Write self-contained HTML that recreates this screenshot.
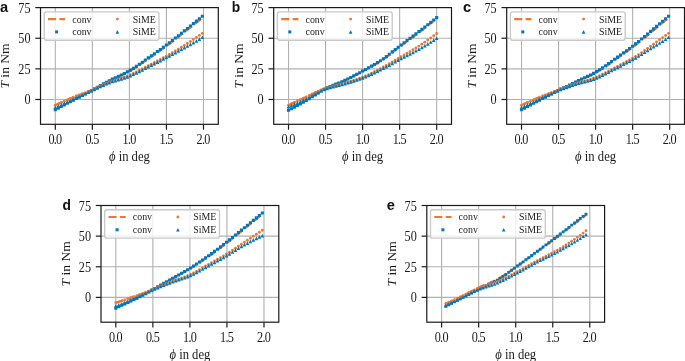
<!DOCTYPE html>
<html><head><meta charset="utf-8"><title>Figure</title>
<style>
html,body{margin:0;padding:0;background:#fff}
svg{display:block;will-change:transform}
.t{font-family:"Liberation Serif",serif;font-size:13.6px;fill:#1a1a1a}
.l{font-family:"Liberation Serif",serif;font-size:11px;fill:#1a1a1a}
.p{font-family:"Liberation Sans",sans-serif;font-weight:bold;fill:#111}
</style></head><body>
<svg width="685" height="361" viewBox="0 0 685 361">
<rect width="685" height="361" fill="#fff"/>
<g>
<line x1="55.32" y1="7.6" x2="55.32" y2="124.3" stroke="#b0b0b0" stroke-width="1.1"/>
<line x1="92.36" y1="7.6" x2="92.36" y2="124.3" stroke="#b0b0b0" stroke-width="1.1"/>
<line x1="129.4" y1="7.6" x2="129.4" y2="124.3" stroke="#b0b0b0" stroke-width="1.1"/>
<line x1="166.44" y1="7.6" x2="166.44" y2="124.3" stroke="#b0b0b0" stroke-width="1.1"/>
<line x1="203.48" y1="7.6" x2="203.48" y2="124.3" stroke="#b0b0b0" stroke-width="1.1"/>
<line x1="40.5" y1="99.49" x2="218.3" y2="99.49" stroke="#b0b0b0" stroke-width="1.1"/>
<line x1="40.5" y1="68.86" x2="218.3" y2="68.86" stroke="#b0b0b0" stroke-width="1.1"/>
<line x1="40.5" y1="38.23" x2="218.3" y2="38.23" stroke="#b0b0b0" stroke-width="1.1"/>
<polyline points="55.32,105.13 58.32,103.75 61.32,102.41 64.32,101.09 67.32,99.79 70.32,98.52 73.32,97.25 76.32,96.06 79.33,94.98 82.33,93.95 85.33,92.9 88.33,91.75 91.33,90.44 94.33,88.93 97.33,87.35 100.33,85.75 103.33,84.15 106.34,82.57 109.34,81.02 112.34,79.55 115.34,78.16 118.34,76.82 121.34,75.46 124.34,74.02 127.34,72.47 130.34,70.8 133.35,69.02 136.35,67.13 139.35,65.13 142.35,63.06 145.35,60.96 148.35,58.88 151.35,56.82 154.35,54.76 157.36,52.68 160.36,50.57 163.36,48.44 166.36,46.25 169.36,44.02 172.36,41.73 175.36,39.41 178.36,37.06 181.36,34.7 184.37,32.33 187.37,29.96 190.37,27.58 193.37,25.19 196.37,22.79 199.37,20.37 202.37,17.94" fill="none" stroke="#EE7733" stroke-width="2.2" stroke-dasharray="8.1 3.5"/>
<path d="M53.77 108.11h3.1v3.1h-3.1zM56.77 106.53h3.1v3.1h-3.1zM59.77 104.95h3.1v3.1h-3.1zM62.77 103.36h3.1v3.1h-3.1zM65.77 101.77h3.1v3.1h-3.1zM68.77 100.18h3.1v3.1h-3.1zM71.77 98.58h3.1v3.1h-3.1zM74.77 96.98h3.1v3.1h-3.1zM77.78 95.38h3.1v3.1h-3.1zM80.78 93.77h3.1v3.1h-3.1zM83.78 92.16h3.1v3.1h-3.1zM86.78 90.55h3.1v3.1h-3.1zM89.78 88.94h3.1v3.1h-3.1zM92.78 87.31h3.1v3.1h-3.1zM95.78 85.66h3.1v3.1h-3.1zM98.78 84h3.1v3.1h-3.1zM101.78 82.34h3.1v3.1h-3.1zM104.79 80.71h3.1v3.1h-3.1zM107.79 79.13h3.1v3.1h-3.1zM110.79 77.61h3.1v3.1h-3.1zM113.79 76.18h3.1v3.1h-3.1zM116.79 74.8h3.1v3.1h-3.1zM119.79 73.4h3.1v3.1h-3.1zM122.79 71.93h3.1v3.1h-3.1zM125.79 70.34h3.1v3.1h-3.1zM128.79 68.62h3.1v3.1h-3.1zM131.8 66.79h3.1v3.1h-3.1zM134.8 64.83h3.1v3.1h-3.1zM137.8 62.76h3.1v3.1h-3.1zM140.8 60.63h3.1v3.1h-3.1zM143.8 58.48h3.1v3.1h-3.1zM146.8 56.35h3.1v3.1h-3.1zM149.8 54.24h3.1v3.1h-3.1zM152.8 52.13h3.1v3.1h-3.1zM155.81 50.02h3.1v3.1h-3.1zM158.81 47.88h3.1v3.1h-3.1zM161.81 45.7h3.1v3.1h-3.1zM164.81 43.48h3.1v3.1h-3.1zM167.81 41.21h3.1v3.1h-3.1zM170.81 38.88h3.1v3.1h-3.1zM173.81 36.52h3.1v3.1h-3.1zM176.81 34.13h3.1v3.1h-3.1zM179.81 31.72h3.1v3.1h-3.1zM182.82 29.32h3.1v3.1h-3.1zM185.82 26.91h3.1v3.1h-3.1zM188.82 24.49h3.1v3.1h-3.1zM191.82 22.06h3.1v3.1h-3.1zM194.82 19.62h3.1v3.1h-3.1zM197.82 17.16h3.1v3.1h-3.1zM200.82 14.69h3.1v3.1h-3.1z" fill="#0077BB"/>
<circle cx="55.32" cy="105.13" r="1.45" fill="#EE7733"/>
<circle cx="58.32" cy="103.84" r="1.45" fill="#EE7733"/>
<circle cx="61.32" cy="102.55" r="1.45" fill="#EE7733"/>
<circle cx="64.32" cy="101.24" r="1.45" fill="#EE7733"/>
<circle cx="67.32" cy="99.93" r="1.45" fill="#EE7733"/>
<circle cx="70.32" cy="98.6" r="1.45" fill="#EE7733"/>
<circle cx="73.32" cy="97.27" r="1.45" fill="#EE7733"/>
<circle cx="76.32" cy="95.99" r="1.45" fill="#EE7733"/>
<circle cx="79.33" cy="94.85" r="1.45" fill="#EE7733"/>
<circle cx="82.33" cy="93.79" r="1.45" fill="#EE7733"/>
<circle cx="85.33" cy="92.74" r="1.45" fill="#EE7733"/>
<circle cx="88.33" cy="91.63" r="1.45" fill="#EE7733"/>
<circle cx="91.33" cy="90.4" r="1.45" fill="#EE7733"/>
<circle cx="94.33" cy="89" r="1.45" fill="#EE7733"/>
<circle cx="97.33" cy="87.54" r="1.45" fill="#EE7733"/>
<circle cx="100.33" cy="86.07" r="1.45" fill="#EE7733"/>
<circle cx="103.33" cy="84.62" r="1.45" fill="#EE7733"/>
<circle cx="106.34" cy="83.23" r="1.45" fill="#EE7733"/>
<circle cx="109.34" cy="81.96" r="1.45" fill="#EE7733"/>
<circle cx="112.34" cy="80.83" r="1.45" fill="#EE7733"/>
<circle cx="115.34" cy="79.86" r="1.45" fill="#EE7733"/>
<circle cx="118.34" cy="78.96" r="1.45" fill="#EE7733"/>
<circle cx="121.34" cy="78.07" r="1.45" fill="#EE7733"/>
<circle cx="124.34" cy="77.1" r="1.45" fill="#EE7733"/>
<circle cx="127.34" cy="75.98" r="1.45" fill="#EE7733"/>
<circle cx="130.34" cy="74.72" r="1.45" fill="#EE7733"/>
<circle cx="133.35" cy="73.38" r="1.45" fill="#EE7733"/>
<circle cx="136.35" cy="71.94" r="1.45" fill="#EE7733"/>
<circle cx="139.35" cy="70.42" r="1.45" fill="#EE7733"/>
<circle cx="142.35" cy="68.85" r="1.45" fill="#EE7733"/>
<circle cx="145.35" cy="67.27" r="1.45" fill="#EE7733"/>
<circle cx="148.35" cy="65.7" r="1.45" fill="#EE7733"/>
<circle cx="151.35" cy="64.14" r="1.45" fill="#EE7733"/>
<circle cx="154.35" cy="62.57" r="1.45" fill="#EE7733"/>
<circle cx="157.36" cy="61" r="1.45" fill="#EE7733"/>
<circle cx="160.36" cy="59.41" r="1.45" fill="#EE7733"/>
<circle cx="163.36" cy="57.8" r="1.45" fill="#EE7733"/>
<circle cx="166.36" cy="56.16" r="1.45" fill="#EE7733"/>
<circle cx="169.36" cy="54.49" r="1.45" fill="#EE7733"/>
<circle cx="172.36" cy="52.75" r="1.45" fill="#EE7733"/>
<circle cx="175.36" cy="50.98" r="1.45" fill="#EE7733"/>
<circle cx="178.36" cy="49.17" r="1.45" fill="#EE7733"/>
<circle cx="181.36" cy="47.32" r="1.45" fill="#EE7733"/>
<circle cx="184.37" cy="45.46" r="1.45" fill="#EE7733"/>
<circle cx="187.37" cy="43.54" r="1.45" fill="#EE7733"/>
<circle cx="190.37" cy="41.51" r="1.45" fill="#EE7733"/>
<circle cx="193.37" cy="39.44" r="1.45" fill="#EE7733"/>
<circle cx="196.37" cy="37.42" r="1.45" fill="#EE7733"/>
<circle cx="199.37" cy="35.4" r="1.45" fill="#EE7733"/>
<circle cx="202.37" cy="33.35" r="1.45" fill="#EE7733"/>
<path d="M55.32 105.48l1.85 3.7h-3.7zM58.32 104.19l1.85 3.7h-3.7zM61.32 102.89l1.85 3.7h-3.7zM64.32 101.57l1.85 3.7h-3.7zM67.32 100.23l1.85 3.7h-3.7zM70.32 98.88l1.85 3.7h-3.7zM73.32 97.51l1.85 3.7h-3.7zM76.32 96.12l1.85 3.7h-3.7zM79.33 94.69l1.85 3.7h-3.7zM82.33 93.24l1.85 3.7h-3.7zM85.33 91.79l1.85 3.7h-3.7zM88.33 90.35l1.85 3.7h-3.7zM91.33 88.93l1.85 3.7h-3.7zM94.33 87.53l1.85 3.7h-3.7zM97.33 86.09l1.85 3.7h-3.7zM100.33 84.66l1.85 3.7h-3.7zM103.33 83.26l1.85 3.7h-3.7zM106.34 81.92l1.85 3.7h-3.7zM109.34 80.7l1.85 3.7h-3.7zM112.34 79.61l1.85 3.7h-3.7zM115.34 78.68l1.85 3.7h-3.7zM118.34 77.83l1.85 3.7h-3.7zM121.34 76.98l1.85 3.7h-3.7zM124.34 76.05l1.85 3.7h-3.7zM127.34 74.97l1.85 3.7h-3.7zM130.34 73.74l1.85 3.7h-3.7zM133.35 72.41l1.85 3.7h-3.7zM136.35 71l1.85 3.7h-3.7zM139.35 69.5l1.85 3.7h-3.7zM142.35 67.94l1.85 3.7h-3.7zM145.35 66.38l1.85 3.7h-3.7zM148.35 64.83l1.85 3.7h-3.7zM151.35 63.3l1.85 3.7h-3.7zM154.35 61.77l1.85 3.7h-3.7zM157.36 60.23l1.85 3.7h-3.7zM160.36 58.68l1.85 3.7h-3.7zM163.36 57.11l1.85 3.7h-3.7zM166.36 55.54l1.85 3.7h-3.7zM169.36 53.94l1.85 3.7h-3.7zM172.36 52.33l1.85 3.7h-3.7zM175.36 50.7l1.85 3.7h-3.7zM178.36 49.06l1.85 3.7h-3.7zM181.36 47.42l1.85 3.7h-3.7zM184.37 45.77l1.85 3.7h-3.7zM187.37 44.14l1.85 3.7h-3.7zM190.37 42.52l1.85 3.7h-3.7zM193.37 40.87l1.85 3.7h-3.7zM196.37 39.15l1.85 3.7h-3.7zM199.37 37.31l1.85 3.7h-3.7zM202.37 35.39l1.85 3.7h-3.7z" fill="#0077BB"/>
<rect x="40.5" y="7.6" width="177.8" height="116.7" fill="none" stroke="#1a1a1a" stroke-width="1.2"/>
<line x1="55.32" y1="124.3" x2="55.32" y2="129.7" stroke="#1a1a1a" stroke-width="1.2"/>
<text transform="translate(55.32 143.9) scale(0.9 1)" text-anchor="middle" class="t">0<tspan dx="-0.8">.</tspan><tspan dx="-0.8">0</tspan></text>
<line x1="92.36" y1="124.3" x2="92.36" y2="129.7" stroke="#1a1a1a" stroke-width="1.2"/>
<text transform="translate(92.36 143.9) scale(0.9 1)" text-anchor="middle" class="t">0<tspan dx="-0.8">.</tspan><tspan dx="-0.8">5</tspan></text>
<line x1="129.4" y1="124.3" x2="129.4" y2="129.7" stroke="#1a1a1a" stroke-width="1.2"/>
<text transform="translate(129.4 143.9) scale(0.9 1)" text-anchor="middle" class="t">1<tspan dx="-0.8">.</tspan><tspan dx="-0.8">0</tspan></text>
<line x1="166.44" y1="124.3" x2="166.44" y2="129.7" stroke="#1a1a1a" stroke-width="1.2"/>
<text transform="translate(166.44 143.9) scale(0.9 1)" text-anchor="middle" class="t">1<tspan dx="-0.8">.</tspan><tspan dx="-0.8">5</tspan></text>
<line x1="203.48" y1="124.3" x2="203.48" y2="129.7" stroke="#1a1a1a" stroke-width="1.2"/>
<text transform="translate(203.48 143.9) scale(0.9 1)" text-anchor="middle" class="t">2<tspan dx="-0.8">.</tspan><tspan dx="-0.8">0</tspan></text>
<line x1="35.3" y1="99.49" x2="40.5" y2="99.49" stroke="#1a1a1a" stroke-width="1.2"/>
<text transform="translate(30.5 104.49) scale(0.9 1)" text-anchor="end" class="t">0</text>
<line x1="35.3" y1="68.86" x2="40.5" y2="68.86" stroke="#1a1a1a" stroke-width="1.2"/>
<text transform="translate(30.5 73.86) scale(0.9 1)" text-anchor="end" class="t">25</text>
<line x1="35.3" y1="38.23" x2="40.5" y2="38.23" stroke="#1a1a1a" stroke-width="1.2"/>
<text transform="translate(30.5 43.23) scale(0.9 1)" text-anchor="end" class="t">50</text>
<line x1="35.3" y1="7.6" x2="40.5" y2="7.6" stroke="#1a1a1a" stroke-width="1.2"/>
<text transform="translate(30.5 12.6) scale(0.9 1)" text-anchor="end" class="t">75</text>
<text transform="translate(129.4 161.2) scale(0.93 1)" text-anchor="middle" class="t"><tspan font-style="italic">&#981;</tspan> in deg</text>
<text transform="translate(9.4 65.95) scale(0.9 1) rotate(-90)" text-anchor="middle" class="t"><tspan font-style="italic">T</tspan> in Nm</text>
<rect x="44.2" y="11.8" width="114.8" height="28.4" rx="2.2" fill="#fff" fill-opacity="0.8" stroke="#c8caca" stroke-width="1.35"/>
<line x1="48" y1="19.1" x2="65.2" y2="19.1" stroke="#EE7733" stroke-width="2.2" stroke-dasharray="8.1 3.3"/>
<rect x="55.1" y="30.4" width="3" height="3" fill="#0077BB"/>
<text transform="translate(72.3 22.5) scale(0.9 1)" class="l">conv</text>
<text transform="translate(72.3 35) scale(0.9 1)" class="l">conv</text>
<circle cx="117.4" cy="19.1" r="1.45" fill="#EE7733"/>
<path d="M117.4 30.1L119.2 33.7H115.6Z" fill="#0077BB"/>
<text transform="translate(132.7 22.5) scale(0.9 1)" class="l">SiME</text>
<text transform="translate(132.7 35) scale(0.9 1)" class="l">SiME</text>
<text x="-0.1" y="12" class="p" font-size="14.6">a</text>
</g>
<g>
<line x1="288.52" y1="7.6" x2="288.52" y2="124.3" stroke="#b0b0b0" stroke-width="1.1"/>
<line x1="325.56" y1="7.6" x2="325.56" y2="124.3" stroke="#b0b0b0" stroke-width="1.1"/>
<line x1="362.6" y1="7.6" x2="362.6" y2="124.3" stroke="#b0b0b0" stroke-width="1.1"/>
<line x1="399.64" y1="7.6" x2="399.64" y2="124.3" stroke="#b0b0b0" stroke-width="1.1"/>
<line x1="436.68" y1="7.6" x2="436.68" y2="124.3" stroke="#b0b0b0" stroke-width="1.1"/>
<line x1="273.7" y1="99.49" x2="451.5" y2="99.49" stroke="#b0b0b0" stroke-width="1.1"/>
<line x1="273.7" y1="68.86" x2="451.5" y2="68.86" stroke="#b0b0b0" stroke-width="1.1"/>
<line x1="273.7" y1="38.23" x2="451.5" y2="38.23" stroke="#b0b0b0" stroke-width="1.1"/>
<polyline points="288.52,105.13 291.48,103.74 294.44,102.37 297.41,101.01 300.37,99.65 303.33,98.28 306.3,96.9 309.26,95.52 312.22,94.18 315.19,92.87 318.15,91.56 321.11,90.25 324.08,88.9 327.04,87.55 330,86.32 332.97,85.19 335.93,84.11 338.89,83.02 341.86,81.85 344.82,80.56 347.78,79.16 350.75,77.69 353.71,76.17 356.67,74.61 359.64,73.02 362.6,71.43 365.56,69.85 368.53,68.26 371.49,66.65 374.45,64.98 377.42,63.25 380.38,61.42 383.34,59.45 386.31,57.31 389.27,55.05 392.23,52.72 395.2,50.37 398.16,48.06 401.12,45.82 404.09,43.62 407.05,41.44 410.01,39.26 412.98,37.07 415.94,34.85 418.9,32.6 421.87,30.33 424.83,28.03 427.79,25.71 430.76,23.37 433.72,21.01 436.68,18.63" fill="none" stroke="#EE7733" stroke-width="2.2" stroke-dasharray="8.1 3.5"/>
<path d="M286.97 108.72h3.1v3.1h-3.1zM289.93 107.19h3.1v3.1h-3.1zM292.89 105.62h3.1v3.1h-3.1zM295.86 104.02h3.1v3.1h-3.1zM298.82 102.38h3.1v3.1h-3.1zM301.78 100.7h3.1v3.1h-3.1zM304.75 98.99h3.1v3.1h-3.1zM307.71 97.2h3.1v3.1h-3.1zM310.67 95.27h3.1v3.1h-3.1zM313.64 93.28h3.1v3.1h-3.1zM316.6 91.3h3.1v3.1h-3.1zM319.56 89.41h3.1v3.1h-3.1zM322.53 87.69h3.1v3.1h-3.1zM325.49 86.19h3.1v3.1h-3.1zM328.45 84.88h3.1v3.1h-3.1zM331.42 83.68h3.1v3.1h-3.1zM334.38 82.54h3.1v3.1h-3.1zM337.34 81.39h3.1v3.1h-3.1zM340.31 80.18h3.1v3.1h-3.1zM343.27 78.85h3.1v3.1h-3.1zM346.23 77.41h3.1v3.1h-3.1zM349.2 75.91h3.1v3.1h-3.1zM352.16 74.36h3.1v3.1h-3.1zM355.12 72.77h3.1v3.1h-3.1zM358.09 71.15h3.1v3.1h-3.1zM361.05 69.52h3.1v3.1h-3.1zM364.01 67.89h3.1v3.1h-3.1zM366.98 66.25h3.1v3.1h-3.1zM369.94 64.59h3.1v3.1h-3.1zM372.9 62.88h3.1v3.1h-3.1zM375.87 61.1h3.1v3.1h-3.1zM378.83 59.22h3.1v3.1h-3.1zM381.79 57.21h3.1v3.1h-3.1zM384.76 55.03h3.1v3.1h-3.1zM387.72 52.73h3.1v3.1h-3.1zM390.68 50.37h3.1v3.1h-3.1zM393.65 47.99h3.1v3.1h-3.1zM396.61 45.66h3.1v3.1h-3.1zM399.57 43.4h3.1v3.1h-3.1zM402.54 41.19h3.1v3.1h-3.1zM405.5 38.99h3.1v3.1h-3.1zM408.46 36.8h3.1v3.1h-3.1zM411.43 34.59h3.1v3.1h-3.1zM414.39 32.37h3.1v3.1h-3.1zM417.35 30.11h3.1v3.1h-3.1zM420.32 27.82h3.1v3.1h-3.1zM423.28 25.51h3.1v3.1h-3.1zM426.24 23.19h3.1v3.1h-3.1zM429.21 20.84h3.1v3.1h-3.1zM432.17 18.48h3.1v3.1h-3.1zM435.13 16.1h3.1v3.1h-3.1z" fill="#0077BB"/>
<circle cx="288.52" cy="105.13" r="1.45" fill="#EE7733"/>
<circle cx="291.48" cy="103.77" r="1.45" fill="#EE7733"/>
<circle cx="294.44" cy="102.42" r="1.45" fill="#EE7733"/>
<circle cx="297.41" cy="101.06" r="1.45" fill="#EE7733"/>
<circle cx="300.37" cy="99.69" r="1.45" fill="#EE7733"/>
<circle cx="303.33" cy="98.31" r="1.45" fill="#EE7733"/>
<circle cx="306.3" cy="96.9" r="1.45" fill="#EE7733"/>
<circle cx="309.26" cy="95.48" r="1.45" fill="#EE7733"/>
<circle cx="312.22" cy="94.06" r="1.45" fill="#EE7733"/>
<circle cx="315.19" cy="92.67" r="1.45" fill="#EE7733"/>
<circle cx="318.15" cy="91.32" r="1.45" fill="#EE7733"/>
<circle cx="321.11" cy="90.06" r="1.45" fill="#EE7733"/>
<circle cx="324.08" cy="88.88" r="1.45" fill="#EE7733"/>
<circle cx="327.04" cy="87.84" r="1.45" fill="#EE7733"/>
<circle cx="330" cy="86.94" r="1.45" fill="#EE7733"/>
<circle cx="332.97" cy="86.14" r="1.45" fill="#EE7733"/>
<circle cx="335.93" cy="85.41" r="1.45" fill="#EE7733"/>
<circle cx="338.89" cy="84.69" r="1.45" fill="#EE7733"/>
<circle cx="341.86" cy="83.94" r="1.45" fill="#EE7733"/>
<circle cx="344.82" cy="83.1" r="1.45" fill="#EE7733"/>
<circle cx="347.78" cy="82.22" r="1.45" fill="#EE7733"/>
<circle cx="350.75" cy="81.31" r="1.45" fill="#EE7733"/>
<circle cx="353.71" cy="80.37" r="1.45" fill="#EE7733"/>
<circle cx="356.67" cy="79.37" r="1.45" fill="#EE7733"/>
<circle cx="359.64" cy="78.32" r="1.45" fill="#EE7733"/>
<circle cx="362.6" cy="77.19" r="1.45" fill="#EE7733"/>
<circle cx="365.56" cy="75.96" r="1.45" fill="#EE7733"/>
<circle cx="368.53" cy="74.62" r="1.45" fill="#EE7733"/>
<circle cx="371.49" cy="73.2" r="1.45" fill="#EE7733"/>
<circle cx="374.45" cy="71.71" r="1.45" fill="#EE7733"/>
<circle cx="377.42" cy="70.17" r="1.45" fill="#EE7733"/>
<circle cx="380.38" cy="68.62" r="1.45" fill="#EE7733"/>
<circle cx="383.34" cy="67.04" r="1.45" fill="#EE7733"/>
<circle cx="386.31" cy="65.38" r="1.45" fill="#EE7733"/>
<circle cx="389.27" cy="63.68" r="1.45" fill="#EE7733"/>
<circle cx="392.23" cy="61.93" r="1.45" fill="#EE7733"/>
<circle cx="395.2" cy="60.18" r="1.45" fill="#EE7733"/>
<circle cx="398.16" cy="58.45" r="1.45" fill="#EE7733"/>
<circle cx="401.12" cy="56.74" r="1.45" fill="#EE7733"/>
<circle cx="404.09" cy="55.03" r="1.45" fill="#EE7733"/>
<circle cx="407.05" cy="53.32" r="1.45" fill="#EE7733"/>
<circle cx="410.01" cy="51.58" r="1.45" fill="#EE7733"/>
<circle cx="412.98" cy="49.8" r="1.45" fill="#EE7733"/>
<circle cx="415.94" cy="47.97" r="1.45" fill="#EE7733"/>
<circle cx="418.9" cy="46.08" r="1.45" fill="#EE7733"/>
<circle cx="421.87" cy="44.13" r="1.45" fill="#EE7733"/>
<circle cx="424.83" cy="42.13" r="1.45" fill="#EE7733"/>
<circle cx="427.79" cy="40.06" r="1.45" fill="#EE7733"/>
<circle cx="430.76" cy="37.95" r="1.45" fill="#EE7733"/>
<circle cx="433.72" cy="35.79" r="1.45" fill="#EE7733"/>
<circle cx="436.68" cy="33.57" r="1.45" fill="#EE7733"/>
<path d="M288.52 104.87l1.85 3.7h-3.7zM291.48 103.62l1.85 3.7h-3.7zM294.44 102.33l1.85 3.7h-3.7zM297.41 101.02l1.85 3.7h-3.7zM300.37 99.67l1.85 3.7h-3.7zM303.33 98.3l1.85 3.7h-3.7zM306.3 96.89l1.85 3.7h-3.7zM309.26 95.41l1.85 3.7h-3.7zM312.22 93.79l1.85 3.7h-3.7zM315.19 92.1l1.85 3.7h-3.7zM318.15 90.44l1.85 3.7h-3.7zM321.11 88.89l1.85 3.7h-3.7zM324.08 87.55l1.85 3.7h-3.7zM327.04 86.48l1.85 3.7h-3.7zM330 85.58l1.85 3.7h-3.7zM332.97 84.78l1.85 3.7h-3.7zM335.93 84.05l1.85 3.7h-3.7zM338.89 83.33l1.85 3.7h-3.7zM341.86 82.58l1.85 3.7h-3.7zM344.82 81.74l1.85 3.7h-3.7zM347.78 80.88l1.85 3.7h-3.7zM350.75 80l1.85 3.7h-3.7zM353.71 79.1l1.85 3.7h-3.7zM356.67 78.15l1.85 3.7h-3.7zM359.64 77.15l1.85 3.7h-3.7zM362.6 76.08l1.85 3.7h-3.7zM365.56 74.9l1.85 3.7h-3.7zM368.53 73.62l1.85 3.7h-3.7zM371.49 72.25l1.85 3.7h-3.7zM374.45 70.82l1.85 3.7h-3.7zM377.42 69.35l1.85 3.7h-3.7zM380.38 67.87l1.85 3.7h-3.7zM383.34 66.37l1.85 3.7h-3.7zM386.31 64.79l1.85 3.7h-3.7zM389.27 63.18l1.85 3.7h-3.7zM392.23 61.53l1.85 3.7h-3.7zM395.2 59.88l1.85 3.7h-3.7zM398.16 58.25l1.85 3.7h-3.7zM401.12 56.67l1.85 3.7h-3.7zM404.09 55.11l1.85 3.7h-3.7zM407.05 53.58l1.85 3.7h-3.7zM410.01 52.05l1.85 3.7h-3.7zM412.98 50.49l1.85 3.7h-3.7zM415.94 48.89l1.85 3.7h-3.7zM418.9 47.23l1.85 3.7h-3.7zM421.87 45.52l1.85 3.7h-3.7zM424.83 43.77l1.85 3.7h-3.7zM427.79 41.98l1.85 3.7h-3.7zM430.76 40.15l1.85 3.7h-3.7zM433.72 38.28l1.85 3.7h-3.7zM436.68 36.38l1.85 3.7h-3.7z" fill="#0077BB"/>
<rect x="273.7" y="7.6" width="177.8" height="116.7" fill="none" stroke="#1a1a1a" stroke-width="1.2"/>
<line x1="288.52" y1="124.3" x2="288.52" y2="129.7" stroke="#1a1a1a" stroke-width="1.2"/>
<text transform="translate(288.52 143.9) scale(0.9 1)" text-anchor="middle" class="t">0<tspan dx="-0.8">.</tspan><tspan dx="-0.8">0</tspan></text>
<line x1="325.56" y1="124.3" x2="325.56" y2="129.7" stroke="#1a1a1a" stroke-width="1.2"/>
<text transform="translate(325.56 143.9) scale(0.9 1)" text-anchor="middle" class="t">0<tspan dx="-0.8">.</tspan><tspan dx="-0.8">5</tspan></text>
<line x1="362.6" y1="124.3" x2="362.6" y2="129.7" stroke="#1a1a1a" stroke-width="1.2"/>
<text transform="translate(362.6 143.9) scale(0.9 1)" text-anchor="middle" class="t">1<tspan dx="-0.8">.</tspan><tspan dx="-0.8">0</tspan></text>
<line x1="399.64" y1="124.3" x2="399.64" y2="129.7" stroke="#1a1a1a" stroke-width="1.2"/>
<text transform="translate(399.64 143.9) scale(0.9 1)" text-anchor="middle" class="t">1<tspan dx="-0.8">.</tspan><tspan dx="-0.8">5</tspan></text>
<line x1="436.68" y1="124.3" x2="436.68" y2="129.7" stroke="#1a1a1a" stroke-width="1.2"/>
<text transform="translate(436.68 143.9) scale(0.9 1)" text-anchor="middle" class="t">2<tspan dx="-0.8">.</tspan><tspan dx="-0.8">0</tspan></text>
<line x1="268.5" y1="99.49" x2="273.7" y2="99.49" stroke="#1a1a1a" stroke-width="1.2"/>
<text transform="translate(263.7 104.49) scale(0.9 1)" text-anchor="end" class="t">0</text>
<line x1="268.5" y1="68.86" x2="273.7" y2="68.86" stroke="#1a1a1a" stroke-width="1.2"/>
<text transform="translate(263.7 73.86) scale(0.9 1)" text-anchor="end" class="t">25</text>
<line x1="268.5" y1="38.23" x2="273.7" y2="38.23" stroke="#1a1a1a" stroke-width="1.2"/>
<text transform="translate(263.7 43.23) scale(0.9 1)" text-anchor="end" class="t">50</text>
<line x1="268.5" y1="7.6" x2="273.7" y2="7.6" stroke="#1a1a1a" stroke-width="1.2"/>
<text transform="translate(263.7 12.6) scale(0.9 1)" text-anchor="end" class="t">75</text>
<text transform="translate(362.6 161.2) scale(0.93 1)" text-anchor="middle" class="t"><tspan font-style="italic">&#981;</tspan> in deg</text>
<text transform="translate(242.6 65.95) scale(0.9 1) rotate(-90)" text-anchor="middle" class="t"><tspan font-style="italic">T</tspan> in Nm</text>
<rect x="277.4" y="11.8" width="114.8" height="28.4" rx="2.2" fill="#fff" fill-opacity="0.8" stroke="#c8caca" stroke-width="1.35"/>
<line x1="281.2" y1="19.1" x2="298.4" y2="19.1" stroke="#EE7733" stroke-width="2.2" stroke-dasharray="8.1 3.3"/>
<rect x="288.3" y="30.4" width="3" height="3" fill="#0077BB"/>
<text transform="translate(305.5 22.5) scale(0.9 1)" class="l">conv</text>
<text transform="translate(305.5 35) scale(0.9 1)" class="l">conv</text>
<circle cx="350.6" cy="19.1" r="1.45" fill="#EE7733"/>
<path d="M350.6 30.1L352.4 33.7H348.8Z" fill="#0077BB"/>
<text transform="translate(365.9 22.5) scale(0.9 1)" class="l">SiME</text>
<text transform="translate(365.9 35) scale(0.9 1)" class="l">SiME</text>
<text x="231.8" y="12" class="p" font-size="13.8">b</text>
</g>
<g>
<line x1="521.52" y1="7.6" x2="521.52" y2="124.3" stroke="#b0b0b0" stroke-width="1.1"/>
<line x1="558.56" y1="7.6" x2="558.56" y2="124.3" stroke="#b0b0b0" stroke-width="1.1"/>
<line x1="595.6" y1="7.6" x2="595.6" y2="124.3" stroke="#b0b0b0" stroke-width="1.1"/>
<line x1="632.64" y1="7.6" x2="632.64" y2="124.3" stroke="#b0b0b0" stroke-width="1.1"/>
<line x1="669.68" y1="7.6" x2="669.68" y2="124.3" stroke="#b0b0b0" stroke-width="1.1"/>
<line x1="506.7" y1="99.49" x2="684.5" y2="99.49" stroke="#b0b0b0" stroke-width="1.1"/>
<line x1="506.7" y1="68.86" x2="684.5" y2="68.86" stroke="#b0b0b0" stroke-width="1.1"/>
<line x1="506.7" y1="38.23" x2="684.5" y2="38.23" stroke="#b0b0b0" stroke-width="1.1"/>
<polyline points="521.52,105.13 524.52,103.75 527.52,102.41 530.52,101.09 533.52,99.79 536.52,98.52 539.52,97.25 542.52,96.06 545.53,94.98 548.53,93.95 551.53,92.9 554.53,91.75 557.53,90.44 560.53,89.02 563.53,87.85 566.53,86.71 569.53,85.37 572.54,83.84 575.54,82.35 578.54,80.92 581.54,79.57 584.54,78.25 587.54,76.91 590.54,75.49 593.54,73.94 596.54,72.27 599.55,70.49 602.55,68.59 605.55,66.58 608.55,64.49 611.55,62.38 614.55,60.28 617.55,58.2 620.55,56.11 623.56,54 626.56,51.87 629.56,49.7 632.56,47.48 635.56,45.19 638.56,42.8 641.56,40.36 644.56,37.87 647.56,35.36 650.57,32.86 653.57,30.37 656.57,27.9 659.57,25.43 662.57,22.94 665.57,20.45 668.57,17.96" fill="none" stroke="#EE7733" stroke-width="2.2" stroke-dasharray="8.1 3.5"/>
<path d="M519.97 108.11h3.1v3.1h-3.1zM522.97 106.53h3.1v3.1h-3.1zM525.97 104.95h3.1v3.1h-3.1zM528.97 103.36h3.1v3.1h-3.1zM531.97 101.77h3.1v3.1h-3.1zM534.97 100.18h3.1v3.1h-3.1zM537.97 98.58h3.1v3.1h-3.1zM540.97 96.98h3.1v3.1h-3.1zM543.98 95.38h3.1v3.1h-3.1zM546.98 93.77h3.1v3.1h-3.1zM549.98 92.16h3.1v3.1h-3.1zM552.98 90.55h3.1v3.1h-3.1zM555.98 88.94h3.1v3.1h-3.1zM558.98 87.41h3.1v3.1h-3.1zM561.98 86.15h3.1v3.1h-3.1zM564.98 84.95h3.1v3.1h-3.1zM567.98 83.57h3.1v3.1h-3.1zM570.99 81.99h3.1v3.1h-3.1zM573.99 80.45h3.1v3.1h-3.1zM576.99 78.98h3.1v3.1h-3.1zM579.99 77.58h3.1v3.1h-3.1zM582.99 76.23h3.1v3.1h-3.1zM585.99 74.85h3.1v3.1h-3.1zM588.99 73.39h3.1v3.1h-3.1zM591.99 71.81h3.1v3.1h-3.1zM594.99 70.09h3.1v3.1h-3.1zM598 68.26h3.1v3.1h-3.1zM601 66.29h3.1v3.1h-3.1zM604 64.21h3.1v3.1h-3.1zM607 62.07h3.1v3.1h-3.1zM610 59.9h3.1v3.1h-3.1zM613 57.75h3.1v3.1h-3.1zM616 55.62h3.1v3.1h-3.1zM619 53.49h3.1v3.1h-3.1zM622.01 51.34h3.1v3.1h-3.1zM625.01 49.17h3.1v3.1h-3.1zM628.01 46.96h3.1v3.1h-3.1zM631.01 44.71h3.1v3.1h-3.1zM634.01 42.37h3.1v3.1h-3.1zM637.01 39.95h3.1v3.1h-3.1zM640.01 37.46h3.1v3.1h-3.1zM643.01 34.93h3.1v3.1h-3.1zM646.01 32.39h3.1v3.1h-3.1zM649.02 29.84h3.1v3.1h-3.1zM652.02 27.32h3.1v3.1h-3.1zM655.02 24.81h3.1v3.1h-3.1zM658.02 22.29h3.1v3.1h-3.1zM661.02 19.77h3.1v3.1h-3.1zM664.02 17.24h3.1v3.1h-3.1zM667.02 14.71h3.1v3.1h-3.1z" fill="#0077BB"/>
<circle cx="521.52" cy="105.13" r="1.45" fill="#EE7733"/>
<circle cx="524.52" cy="103.84" r="1.45" fill="#EE7733"/>
<circle cx="527.52" cy="102.55" r="1.45" fill="#EE7733"/>
<circle cx="530.52" cy="101.24" r="1.45" fill="#EE7733"/>
<circle cx="533.52" cy="99.93" r="1.45" fill="#EE7733"/>
<circle cx="536.52" cy="98.6" r="1.45" fill="#EE7733"/>
<circle cx="539.52" cy="97.27" r="1.45" fill="#EE7733"/>
<circle cx="542.52" cy="95.99" r="1.45" fill="#EE7733"/>
<circle cx="545.53" cy="94.85" r="1.45" fill="#EE7733"/>
<circle cx="548.53" cy="93.79" r="1.45" fill="#EE7733"/>
<circle cx="551.53" cy="92.74" r="1.45" fill="#EE7733"/>
<circle cx="554.53" cy="91.63" r="1.45" fill="#EE7733"/>
<circle cx="557.53" cy="90.4" r="1.45" fill="#EE7733"/>
<circle cx="560.53" cy="89.1" r="1.45" fill="#EE7733"/>
<circle cx="563.53" cy="88.04" r="1.45" fill="#EE7733"/>
<circle cx="566.53" cy="87.03" r="1.45" fill="#EE7733"/>
<circle cx="569.53" cy="85.87" r="1.45" fill="#EE7733"/>
<circle cx="572.54" cy="84.62" r="1.45" fill="#EE7733"/>
<circle cx="575.54" cy="83.49" r="1.45" fill="#EE7733"/>
<circle cx="578.54" cy="82.53" r="1.45" fill="#EE7733"/>
<circle cx="581.54" cy="81.72" r="1.45" fill="#EE7733"/>
<circle cx="584.54" cy="80.98" r="1.45" fill="#EE7733"/>
<circle cx="587.54" cy="80.22" r="1.45" fill="#EE7733"/>
<circle cx="590.54" cy="79.35" r="1.45" fill="#EE7733"/>
<circle cx="593.54" cy="78.3" r="1.45" fill="#EE7733"/>
<circle cx="596.54" cy="77.05" r="1.45" fill="#EE7733"/>
<circle cx="599.55" cy="75.7" r="1.45" fill="#EE7733"/>
<circle cx="602.55" cy="74.26" r="1.45" fill="#EE7733"/>
<circle cx="605.55" cy="72.73" r="1.45" fill="#EE7733"/>
<circle cx="608.55" cy="71.15" r="1.45" fill="#EE7733"/>
<circle cx="611.55" cy="69.54" r="1.45" fill="#EE7733"/>
<circle cx="614.55" cy="67.95" r="1.45" fill="#EE7733"/>
<circle cx="617.55" cy="66.37" r="1.45" fill="#EE7733"/>
<circle cx="620.55" cy="64.78" r="1.45" fill="#EE7733"/>
<circle cx="623.56" cy="63.18" r="1.45" fill="#EE7733"/>
<circle cx="626.56" cy="61.56" r="1.45" fill="#EE7733"/>
<circle cx="629.56" cy="59.92" r="1.45" fill="#EE7733"/>
<circle cx="632.56" cy="58.25" r="1.45" fill="#EE7733"/>
<circle cx="635.56" cy="56.49" r="1.45" fill="#EE7733"/>
<circle cx="638.56" cy="54.59" r="1.45" fill="#EE7733"/>
<circle cx="641.56" cy="52.6" r="1.45" fill="#EE7733"/>
<circle cx="644.56" cy="50.53" r="1.45" fill="#EE7733"/>
<circle cx="647.56" cy="48.41" r="1.45" fill="#EE7733"/>
<circle cx="650.57" cy="46.29" r="1.45" fill="#EE7733"/>
<circle cx="653.57" cy="44.13" r="1.45" fill="#EE7733"/>
<circle cx="656.57" cy="41.91" r="1.45" fill="#EE7733"/>
<circle cx="659.57" cy="39.69" r="1.45" fill="#EE7733"/>
<circle cx="662.57" cy="37.58" r="1.45" fill="#EE7733"/>
<circle cx="665.57" cy="35.49" r="1.45" fill="#EE7733"/>
<circle cx="668.57" cy="33.37" r="1.45" fill="#EE7733"/>
<path d="M521.52 105.48l1.85 3.7h-3.7zM524.52 104.19l1.85 3.7h-3.7zM527.52 102.89l1.85 3.7h-3.7zM530.52 101.57l1.85 3.7h-3.7zM533.52 100.23l1.85 3.7h-3.7zM536.52 98.88l1.85 3.7h-3.7zM539.52 97.51l1.85 3.7h-3.7zM542.52 96.12l1.85 3.7h-3.7zM545.53 94.69l1.85 3.7h-3.7zM548.53 93.24l1.85 3.7h-3.7zM551.53 91.79l1.85 3.7h-3.7zM554.53 90.35l1.85 3.7h-3.7zM557.53 88.93l1.85 3.7h-3.7zM560.53 87.62l1.85 3.7h-3.7zM563.53 86.59l1.85 3.7h-3.7zM566.53 85.61l1.85 3.7h-3.7zM569.53 84.51l1.85 3.7h-3.7zM572.54 83.31l1.85 3.7h-3.7zM575.54 82.23l1.85 3.7h-3.7zM578.54 81.31l1.85 3.7h-3.7zM581.54 80.54l1.85 3.7h-3.7zM584.54 79.85l1.85 3.7h-3.7zM587.54 79.13l1.85 3.7h-3.7zM590.54 78.3l1.85 3.7h-3.7zM593.54 77.29l1.85 3.7h-3.7zM596.54 76.07l1.85 3.7h-3.7zM599.55 74.74l1.85 3.7h-3.7zM602.55 73.32l1.85 3.7h-3.7zM605.55 71.8l1.85 3.7h-3.7zM608.55 70.24l1.85 3.7h-3.7zM611.55 68.65l1.85 3.7h-3.7zM614.55 67.09l1.85 3.7h-3.7zM617.55 65.53l1.85 3.7h-3.7zM620.55 63.98l1.85 3.7h-3.7zM623.56 62.41l1.85 3.7h-3.7zM626.56 60.83l1.85 3.7h-3.7zM629.56 59.23l1.85 3.7h-3.7zM632.56 57.62l1.85 3.7h-3.7zM635.56 55.94l1.85 3.7h-3.7zM638.56 54.17l1.85 3.7h-3.7zM641.56 52.32l1.85 3.7h-3.7zM644.56 50.42l1.85 3.7h-3.7zM647.56 48.5l1.85 3.7h-3.7zM650.57 46.6l1.85 3.7h-3.7zM653.57 44.73l1.85 3.7h-3.7zM656.57 42.93l1.85 3.7h-3.7zM659.57 41.13l1.85 3.7h-3.7zM662.57 39.3l1.85 3.7h-3.7zM665.57 37.4l1.85 3.7h-3.7zM668.57 35.42l1.85 3.7h-3.7z" fill="#0077BB"/>
<rect x="506.7" y="7.6" width="177.8" height="116.7" fill="none" stroke="#1a1a1a" stroke-width="1.2"/>
<line x1="521.52" y1="124.3" x2="521.52" y2="129.7" stroke="#1a1a1a" stroke-width="1.2"/>
<text transform="translate(521.52 143.9) scale(0.9 1)" text-anchor="middle" class="t">0<tspan dx="-0.8">.</tspan><tspan dx="-0.8">0</tspan></text>
<line x1="558.56" y1="124.3" x2="558.56" y2="129.7" stroke="#1a1a1a" stroke-width="1.2"/>
<text transform="translate(558.56 143.9) scale(0.9 1)" text-anchor="middle" class="t">0<tspan dx="-0.8">.</tspan><tspan dx="-0.8">5</tspan></text>
<line x1="595.6" y1="124.3" x2="595.6" y2="129.7" stroke="#1a1a1a" stroke-width="1.2"/>
<text transform="translate(595.6 143.9) scale(0.9 1)" text-anchor="middle" class="t">1<tspan dx="-0.8">.</tspan><tspan dx="-0.8">0</tspan></text>
<line x1="632.64" y1="124.3" x2="632.64" y2="129.7" stroke="#1a1a1a" stroke-width="1.2"/>
<text transform="translate(632.64 143.9) scale(0.9 1)" text-anchor="middle" class="t">1<tspan dx="-0.8">.</tspan><tspan dx="-0.8">5</tspan></text>
<line x1="669.68" y1="124.3" x2="669.68" y2="129.7" stroke="#1a1a1a" stroke-width="1.2"/>
<text transform="translate(669.68 143.9) scale(0.9 1)" text-anchor="middle" class="t">2<tspan dx="-0.8">.</tspan><tspan dx="-0.8">0</tspan></text>
<line x1="501.5" y1="99.49" x2="506.7" y2="99.49" stroke="#1a1a1a" stroke-width="1.2"/>
<text transform="translate(496.7 104.49) scale(0.9 1)" text-anchor="end" class="t">0</text>
<line x1="501.5" y1="68.86" x2="506.7" y2="68.86" stroke="#1a1a1a" stroke-width="1.2"/>
<text transform="translate(496.7 73.86) scale(0.9 1)" text-anchor="end" class="t">25</text>
<line x1="501.5" y1="38.23" x2="506.7" y2="38.23" stroke="#1a1a1a" stroke-width="1.2"/>
<text transform="translate(496.7 43.23) scale(0.9 1)" text-anchor="end" class="t">50</text>
<line x1="501.5" y1="7.6" x2="506.7" y2="7.6" stroke="#1a1a1a" stroke-width="1.2"/>
<text transform="translate(496.7 12.6) scale(0.9 1)" text-anchor="end" class="t">75</text>
<text transform="translate(595.6 161.2) scale(0.93 1)" text-anchor="middle" class="t"><tspan font-style="italic">&#981;</tspan> in deg</text>
<text transform="translate(475.6 65.95) scale(0.9 1) rotate(-90)" text-anchor="middle" class="t"><tspan font-style="italic">T</tspan> in Nm</text>
<rect x="510.4" y="11.8" width="114.8" height="28.4" rx="2.2" fill="#fff" fill-opacity="0.8" stroke="#c8caca" stroke-width="1.35"/>
<line x1="514.2" y1="19.1" x2="531.4" y2="19.1" stroke="#EE7733" stroke-width="2.2" stroke-dasharray="8.1 3.3"/>
<rect x="521.3" y="30.4" width="3" height="3" fill="#0077BB"/>
<text transform="translate(538.5 22.5) scale(0.9 1)" class="l">conv</text>
<text transform="translate(538.5 35) scale(0.9 1)" class="l">conv</text>
<circle cx="583.6" cy="19.1" r="1.45" fill="#EE7733"/>
<path d="M583.6 30.1L585.4 33.7H581.8Z" fill="#0077BB"/>
<text transform="translate(598.9 22.5) scale(0.9 1)" class="l">SiME</text>
<text transform="translate(598.9 35) scale(0.9 1)" class="l">SiME</text>
<text x="463.1" y="12" class="p" font-size="14.6">c</text>
</g>
<g>
<line x1="115.82" y1="205.5" x2="115.82" y2="322.2" stroke="#b0b0b0" stroke-width="1.1"/>
<line x1="152.86" y1="205.5" x2="152.86" y2="322.2" stroke="#b0b0b0" stroke-width="1.1"/>
<line x1="189.9" y1="205.5" x2="189.9" y2="322.2" stroke="#b0b0b0" stroke-width="1.1"/>
<line x1="226.94" y1="205.5" x2="226.94" y2="322.2" stroke="#b0b0b0" stroke-width="1.1"/>
<line x1="263.98" y1="205.5" x2="263.98" y2="322.2" stroke="#b0b0b0" stroke-width="1.1"/>
<line x1="101" y1="297.39" x2="278.8" y2="297.39" stroke="#b0b0b0" stroke-width="1.1"/>
<line x1="101" y1="266.76" x2="278.8" y2="266.76" stroke="#b0b0b0" stroke-width="1.1"/>
<line x1="101" y1="236.13" x2="278.8" y2="236.13" stroke="#b0b0b0" stroke-width="1.1"/>
<polyline points="115.82,302.78 118.81,301.83 121.8,300.86 124.79,299.86 127.78,298.84 130.77,297.8 133.76,296.74 136.75,295.69 139.74,294.67 142.73,293.64 145.72,292.56 148.71,291.36 151.7,290 154.69,288.47 157.68,286.88 160.67,285.26 163.67,283.62 166.66,281.95 169.65,280.28 172.64,278.61 175.63,276.96 178.62,275.31 181.61,273.65 184.6,271.96 187.59,270.22 190.58,268.43 193.57,266.57 196.56,264.66 199.55,262.71 202.54,260.71 205.53,258.68 208.52,256.62 211.51,254.52 214.5,252.37 217.5,250.18 220.49,247.94 223.48,245.67 226.47,243.36 229.46,241.02 232.45,238.63 235.44,236.21 238.43,233.76 241.42,231.31 244.41,228.87 247.4,226.43 250.39,224 253.38,221.55 256.37,219.11 259.36,216.66 262.35,214.2" fill="none" stroke="#EE7733" stroke-width="2.2" stroke-dasharray="8.1 3.5"/>
<path d="M114.27 306.56h3.1v3.1h-3.1zM117.26 305.15h3.1v3.1h-3.1zM120.25 303.72h3.1v3.1h-3.1zM123.24 302.28h3.1v3.1h-3.1zM126.23 300.82h3.1v3.1h-3.1zM129.22 299.34h3.1v3.1h-3.1zM132.21 297.85h3.1v3.1h-3.1zM135.2 296.33h3.1v3.1h-3.1zM138.19 294.8h3.1v3.1h-3.1zM141.18 293.26h3.1v3.1h-3.1zM144.17 291.69h3.1v3.1h-3.1zM147.16 290.1h3.1v3.1h-3.1zM150.15 288.5h3.1v3.1h-3.1zM153.14 286.88h3.1v3.1h-3.1zM156.13 285.22h3.1v3.1h-3.1zM159.12 283.55h3.1v3.1h-3.1zM162.12 281.85h3.1v3.1h-3.1zM165.11 280.15h3.1v3.1h-3.1zM168.1 278.45h3.1v3.1h-3.1zM171.09 276.75h3.1v3.1h-3.1zM174.08 275.07h3.1v3.1h-3.1zM177.07 273.39h3.1v3.1h-3.1zM180.06 271.7h3.1v3.1h-3.1zM183.05 269.98h3.1v3.1h-3.1zM186.04 268.21h3.1v3.1h-3.1zM189.03 266.38h3.1v3.1h-3.1zM192.02 264.47h3.1v3.1h-3.1zM195.01 262.51h3.1v3.1h-3.1zM198 260.5h3.1v3.1h-3.1zM200.99 258.44h3.1v3.1h-3.1zM203.98 256.35h3.1v3.1h-3.1zM206.97 254.23h3.1v3.1h-3.1zM209.96 252.08h3.1v3.1h-3.1zM212.95 249.87h3.1v3.1h-3.1zM215.95 247.63h3.1v3.1h-3.1zM218.94 245.35h3.1v3.1h-3.1zM221.93 243.04h3.1v3.1h-3.1zM224.92 240.71h3.1v3.1h-3.1zM227.91 238.35h3.1v3.1h-3.1zM230.9 235.95h3.1v3.1h-3.1zM233.89 233.51h3.1v3.1h-3.1zM236.88 231.05h3.1v3.1h-3.1zM239.87 228.59h3.1v3.1h-3.1zM242.86 226.13h3.1v3.1h-3.1zM245.85 223.68h3.1v3.1h-3.1zM248.84 221.24h3.1v3.1h-3.1zM251.83 218.79h3.1v3.1h-3.1zM254.82 216.34h3.1v3.1h-3.1zM257.81 213.88h3.1v3.1h-3.1zM260.8 211.42h3.1v3.1h-3.1z" fill="#0077BB"/>
<circle cx="115.82" cy="302.78" r="1.45" fill="#EE7733"/>
<circle cx="118.81" cy="301.83" r="1.45" fill="#EE7733"/>
<circle cx="121.8" cy="300.87" r="1.45" fill="#EE7733"/>
<circle cx="124.79" cy="299.88" r="1.45" fill="#EE7733"/>
<circle cx="127.78" cy="298.86" r="1.45" fill="#EE7733"/>
<circle cx="130.77" cy="297.82" r="1.45" fill="#EE7733"/>
<circle cx="133.76" cy="296.74" r="1.45" fill="#EE7733"/>
<circle cx="136.75" cy="295.65" r="1.45" fill="#EE7733"/>
<circle cx="139.74" cy="294.57" r="1.45" fill="#EE7733"/>
<circle cx="142.73" cy="293.48" r="1.45" fill="#EE7733"/>
<circle cx="145.72" cy="292.36" r="1.45" fill="#EE7733"/>
<circle cx="148.71" cy="291.18" r="1.45" fill="#EE7733"/>
<circle cx="151.7" cy="289.93" r="1.45" fill="#EE7733"/>
<circle cx="154.69" cy="288.61" r="1.45" fill="#EE7733"/>
<circle cx="157.68" cy="287.29" r="1.45" fill="#EE7733"/>
<circle cx="160.67" cy="286" r="1.45" fill="#EE7733"/>
<circle cx="163.67" cy="284.73" r="1.45" fill="#EE7733"/>
<circle cx="166.66" cy="283.49" r="1.45" fill="#EE7733"/>
<circle cx="169.65" cy="282.27" r="1.45" fill="#EE7733"/>
<circle cx="172.64" cy="281.1" r="1.45" fill="#EE7733"/>
<circle cx="175.63" cy="280.01" r="1.45" fill="#EE7733"/>
<circle cx="178.62" cy="278.97" r="1.45" fill="#EE7733"/>
<circle cx="181.61" cy="277.93" r="1.45" fill="#EE7733"/>
<circle cx="184.6" cy="276.86" r="1.45" fill="#EE7733"/>
<circle cx="187.59" cy="275.7" r="1.45" fill="#EE7733"/>
<circle cx="190.58" cy="274.42" r="1.45" fill="#EE7733"/>
<circle cx="193.57" cy="272.95" r="1.45" fill="#EE7733"/>
<circle cx="196.56" cy="271.33" r="1.45" fill="#EE7733"/>
<circle cx="199.55" cy="269.61" r="1.45" fill="#EE7733"/>
<circle cx="202.54" cy="267.84" r="1.45" fill="#EE7733"/>
<circle cx="205.53" cy="266.07" r="1.45" fill="#EE7733"/>
<circle cx="208.52" cy="264.35" r="1.45" fill="#EE7733"/>
<circle cx="211.51" cy="262.67" r="1.45" fill="#EE7733"/>
<circle cx="214.5" cy="260.99" r="1.45" fill="#EE7733"/>
<circle cx="217.5" cy="259.3" r="1.45" fill="#EE7733"/>
<circle cx="220.49" cy="257.59" r="1.45" fill="#EE7733"/>
<circle cx="223.48" cy="255.85" r="1.45" fill="#EE7733"/>
<circle cx="226.47" cy="254.06" r="1.45" fill="#EE7733"/>
<circle cx="229.46" cy="252.2" r="1.45" fill="#EE7733"/>
<circle cx="232.45" cy="250.24" r="1.45" fill="#EE7733"/>
<circle cx="235.44" cy="248.22" r="1.45" fill="#EE7733"/>
<circle cx="238.43" cy="246.18" r="1.45" fill="#EE7733"/>
<circle cx="241.42" cy="244.16" r="1.45" fill="#EE7733"/>
<circle cx="244.41" cy="242.19" r="1.45" fill="#EE7733"/>
<circle cx="247.4" cy="240.28" r="1.45" fill="#EE7733"/>
<circle cx="250.39" cy="238.32" r="1.45" fill="#EE7733"/>
<circle cx="253.38" cy="236.32" r="1.45" fill="#EE7733"/>
<circle cx="256.37" cy="234.29" r="1.45" fill="#EE7733"/>
<circle cx="259.36" cy="232.25" r="1.45" fill="#EE7733"/>
<circle cx="262.35" cy="230.23" r="1.45" fill="#EE7733"/>
<path d="M115.82 303.99l1.85 3.7h-3.7zM118.81 303l1.85 3.7h-3.7zM121.8 301.96l1.85 3.7h-3.7zM124.79 300.85l1.85 3.7h-3.7zM127.78 299.7l1.85 3.7h-3.7zM130.77 298.5l1.85 3.7h-3.7zM133.76 297.26l1.85 3.7h-3.7zM136.75 295.93l1.85 3.7h-3.7zM139.74 294.49l1.85 3.7h-3.7zM142.73 292.97l1.85 3.7h-3.7zM145.72 291.43l1.85 3.7h-3.7zM148.71 289.91l1.85 3.7h-3.7zM151.7 288.47l1.85 3.7h-3.7zM154.69 287.13l1.85 3.7h-3.7zM157.68 285.84l1.85 3.7h-3.7zM160.67 284.58l1.85 3.7h-3.7zM163.67 283.36l1.85 3.7h-3.7zM166.66 282.17l1.85 3.7h-3.7zM169.65 281.01l1.85 3.7h-3.7zM172.64 279.88l1.85 3.7h-3.7zM175.63 278.85l1.85 3.7h-3.7zM178.62 277.87l1.85 3.7h-3.7zM181.61 276.9l1.85 3.7h-3.7zM184.6 275.89l1.85 3.7h-3.7zM187.59 274.79l1.85 3.7h-3.7zM190.58 273.56l1.85 3.7h-3.7zM193.57 272.14l1.85 3.7h-3.7zM196.56 270.57l1.85 3.7h-3.7zM199.55 268.89l1.85 3.7h-3.7zM202.54 267.16l1.85 3.7h-3.7zM205.53 265.43l1.85 3.7h-3.7zM208.52 263.75l1.85 3.7h-3.7zM211.51 262.11l1.85 3.7h-3.7zM214.5 260.48l1.85 3.7h-3.7zM217.5 258.84l1.85 3.7h-3.7zM220.49 257.18l1.85 3.7h-3.7zM223.48 255.5l1.85 3.7h-3.7zM226.47 253.79l1.85 3.7h-3.7zM229.46 252.02l1.85 3.7h-3.7zM232.45 250.17l1.85 3.7h-3.7zM235.44 248.29l1.85 3.7h-3.7zM238.43 246.41l1.85 3.7h-3.7zM241.42 244.58l1.85 3.7h-3.7zM244.41 242.83l1.85 3.7h-3.7zM247.4 241.19l1.85 3.7h-3.7zM250.39 239.59l1.85 3.7h-3.7zM253.38 238.05l1.85 3.7h-3.7zM256.37 236.56l1.85 3.7h-3.7zM259.36 235.12l1.85 3.7h-3.7zM262.35 233.73l1.85 3.7h-3.7z" fill="#0077BB"/>
<rect x="101" y="205.5" width="177.8" height="116.7" fill="none" stroke="#1a1a1a" stroke-width="1.2"/>
<line x1="115.82" y1="322.2" x2="115.82" y2="327.6" stroke="#1a1a1a" stroke-width="1.2"/>
<text transform="translate(115.82 341.8) scale(0.9 1)" text-anchor="middle" class="t">0<tspan dx="-0.8">.</tspan><tspan dx="-0.8">0</tspan></text>
<line x1="152.86" y1="322.2" x2="152.86" y2="327.6" stroke="#1a1a1a" stroke-width="1.2"/>
<text transform="translate(152.86 341.8) scale(0.9 1)" text-anchor="middle" class="t">0<tspan dx="-0.8">.</tspan><tspan dx="-0.8">5</tspan></text>
<line x1="189.9" y1="322.2" x2="189.9" y2="327.6" stroke="#1a1a1a" stroke-width="1.2"/>
<text transform="translate(189.9 341.8) scale(0.9 1)" text-anchor="middle" class="t">1<tspan dx="-0.8">.</tspan><tspan dx="-0.8">0</tspan></text>
<line x1="226.94" y1="322.2" x2="226.94" y2="327.6" stroke="#1a1a1a" stroke-width="1.2"/>
<text transform="translate(226.94 341.8) scale(0.9 1)" text-anchor="middle" class="t">1<tspan dx="-0.8">.</tspan><tspan dx="-0.8">5</tspan></text>
<line x1="263.98" y1="322.2" x2="263.98" y2="327.6" stroke="#1a1a1a" stroke-width="1.2"/>
<text transform="translate(263.98 341.8) scale(0.9 1)" text-anchor="middle" class="t">2<tspan dx="-0.8">.</tspan><tspan dx="-0.8">0</tspan></text>
<line x1="95.8" y1="297.39" x2="101" y2="297.39" stroke="#1a1a1a" stroke-width="1.2"/>
<text transform="translate(91 302.39) scale(0.9 1)" text-anchor="end" class="t">0</text>
<line x1="95.8" y1="266.76" x2="101" y2="266.76" stroke="#1a1a1a" stroke-width="1.2"/>
<text transform="translate(91 271.76) scale(0.9 1)" text-anchor="end" class="t">25</text>
<line x1="95.8" y1="236.13" x2="101" y2="236.13" stroke="#1a1a1a" stroke-width="1.2"/>
<text transform="translate(91 241.13) scale(0.9 1)" text-anchor="end" class="t">50</text>
<line x1="95.8" y1="205.5" x2="101" y2="205.5" stroke="#1a1a1a" stroke-width="1.2"/>
<text transform="translate(91 210.5) scale(0.9 1)" text-anchor="end" class="t">75</text>
<text transform="translate(189.9 359.1) scale(0.93 1)" text-anchor="middle" class="t"><tspan font-style="italic">&#981;</tspan> in deg</text>
<text transform="translate(69.9 263.85) scale(0.9 1) rotate(-90)" text-anchor="middle" class="t"><tspan font-style="italic">T</tspan> in Nm</text>
<rect x="104.7" y="209.7" width="114.8" height="28.4" rx="2.2" fill="#fff" fill-opacity="0.8" stroke="#c8caca" stroke-width="1.35"/>
<line x1="108.5" y1="217" x2="125.7" y2="217" stroke="#EE7733" stroke-width="2.2" stroke-dasharray="8.1 3.3"/>
<rect x="115.6" y="228.3" width="3" height="3" fill="#0077BB"/>
<text transform="translate(132.8 220.4) scale(0.9 1)" class="l">conv</text>
<text transform="translate(132.8 232.9) scale(0.9 1)" class="l">conv</text>
<circle cx="177.9" cy="217" r="1.45" fill="#EE7733"/>
<path d="M177.9 228L179.7 231.6H176.1Z" fill="#0077BB"/>
<text transform="translate(193.2 220.4) scale(0.9 1)" class="l">SiME</text>
<text transform="translate(193.2 232.9) scale(0.9 1)" class="l">SiME</text>
<text x="62.4" y="209.9" class="p" font-size="13.8">d</text>
</g>
<g>
<line x1="441.62" y1="205.5" x2="441.62" y2="322.2" stroke="#b0b0b0" stroke-width="1.1"/>
<line x1="478.66" y1="205.5" x2="478.66" y2="322.2" stroke="#b0b0b0" stroke-width="1.1"/>
<line x1="515.7" y1="205.5" x2="515.7" y2="322.2" stroke="#b0b0b0" stroke-width="1.1"/>
<line x1="552.74" y1="205.5" x2="552.74" y2="322.2" stroke="#b0b0b0" stroke-width="1.1"/>
<line x1="589.78" y1="205.5" x2="589.78" y2="322.2" stroke="#b0b0b0" stroke-width="1.1"/>
<line x1="426.8" y1="297.39" x2="604.6" y2="297.39" stroke="#b0b0b0" stroke-width="1.1"/>
<line x1="426.8" y1="266.76" x2="604.6" y2="266.76" stroke="#b0b0b0" stroke-width="1.1"/>
<line x1="426.8" y1="236.13" x2="604.6" y2="236.13" stroke="#b0b0b0" stroke-width="1.1"/>
<polyline points="445.84,303.76 448.7,302.49 451.56,301.2 454.42,299.89 457.28,298.54 460.14,297.15 463,295.72 465.86,294.24 468.72,292.73 471.58,291.22 474.44,289.73 477.3,288.26 480.16,286.87 483.02,285.58 485.88,284.37 488.74,283.17 491.6,281.94 494.46,280.63 497.32,279.18 500.18,277.58 503.04,275.84 505.9,273.99 508.76,272.06 511.62,270.09 514.48,268.1 517.34,266.11 520.2,264.09 523.06,262.05 525.92,259.99 528.78,257.91 531.64,255.82 534.5,253.72 537.36,251.63 540.22,249.55 543.08,247.47 545.94,245.4 548.8,243.32 551.66,241.22 554.52,239.09 557.38,236.94 560.24,234.76 563.1,232.57 565.96,230.37 568.82,228.16 571.68,225.95 574.54,223.75 577.4,221.55 580.26,219.37 583.12,217.21 585.98,215.06" fill="none" stroke="#EE7733" stroke-width="2.2" stroke-dasharray="8.1 3.5"/>
<path d="M444.39 304.76h2.9v2.9h-2.9zM447.25 303.31h2.9v2.9h-2.9zM450.11 301.86h2.9v2.9h-2.9zM452.97 300.4h2.9v2.9h-2.9zM455.83 298.93h2.9v2.9h-2.9zM458.69 297.46h2.9v2.9h-2.9zM461.55 295.97h2.9v2.9h-2.9zM464.41 294.47h2.9v2.9h-2.9zM467.27 292.95h2.9v2.9h-2.9zM470.13 291.42h2.9v2.9h-2.9zM472.99 289.91h2.9v2.9h-2.9zM475.85 288.42h2.9v2.9h-2.9zM478.71 286.99h2.9v2.9h-2.9zM481.57 285.64h2.9v2.9h-2.9zM484.43 284.34h2.9v2.9h-2.9zM487.29 283.04h2.9v2.9h-2.9zM490.15 281.7h2.9v2.9h-2.9zM493.01 280.27h2.9v2.9h-2.9zM495.87 278.71h2.9v2.9h-2.9zM498.73 276.96h2.9v2.9h-2.9zM501.59 275.06h2.9v2.9h-2.9zM504.45 273.03h2.9v2.9h-2.9zM507.31 270.93h2.9v2.9h-2.9zM510.17 268.8h2.9v2.9h-2.9zM513.03 266.69h2.9v2.9h-2.9zM515.89 264.62h2.9v2.9h-2.9zM518.75 262.53h2.9v2.9h-2.9zM521.61 260.42h2.9v2.9h-2.9zM524.47 258.3h2.9v2.9h-2.9zM527.33 256.17h2.9v2.9h-2.9zM530.19 254.03h2.9v2.9h-2.9zM533.05 251.89h2.9v2.9h-2.9zM535.91 249.75h2.9v2.9h-2.9zM538.77 247.63h2.9v2.9h-2.9zM541.63 245.52h2.9v2.9h-2.9zM544.49 243.41h2.9v2.9h-2.9zM547.35 241.3h2.9v2.9h-2.9zM550.21 239.17h2.9v2.9h-2.9zM553.07 237.01h2.9v2.9h-2.9zM555.93 234.83h2.9v2.9h-2.9zM558.79 232.62h2.9v2.9h-2.9zM561.65 230.41h2.9v2.9h-2.9zM564.51 228.18h2.9v2.9h-2.9zM567.37 225.95h2.9v2.9h-2.9zM570.23 223.72h2.9v2.9h-2.9zM573.09 221.5h2.9v2.9h-2.9zM575.95 219.28h2.9v2.9h-2.9zM578.81 217.09h2.9v2.9h-2.9zM581.67 214.91h2.9v2.9h-2.9zM584.53 212.75h2.9v2.9h-2.9z" fill="#0077BB"/>
<circle cx="445.84" cy="303.52" r="1.4" fill="#EE7733"/>
<circle cx="448.7" cy="302.24" r="1.4" fill="#EE7733"/>
<circle cx="451.56" cy="300.96" r="1.4" fill="#EE7733"/>
<circle cx="454.42" cy="299.66" r="1.4" fill="#EE7733"/>
<circle cx="457.28" cy="298.34" r="1.4" fill="#EE7733"/>
<circle cx="460.14" cy="296.99" r="1.4" fill="#EE7733"/>
<circle cx="463" cy="295.61" r="1.4" fill="#EE7733"/>
<circle cx="465.86" cy="294.17" r="1.4" fill="#EE7733"/>
<circle cx="468.72" cy="292.7" r="1.4" fill="#EE7733"/>
<circle cx="471.58" cy="291.25" r="1.4" fill="#EE7733"/>
<circle cx="474.44" cy="289.84" r="1.4" fill="#EE7733"/>
<circle cx="477.3" cy="288.53" r="1.4" fill="#EE7733"/>
<circle cx="480.16" cy="287.36" r="1.4" fill="#EE7733"/>
<circle cx="483.02" cy="286.33" r="1.4" fill="#EE7733"/>
<circle cx="485.88" cy="285.39" r="1.4" fill="#EE7733"/>
<circle cx="488.74" cy="284.5" r="1.4" fill="#EE7733"/>
<circle cx="491.6" cy="283.59" r="1.4" fill="#EE7733"/>
<circle cx="494.46" cy="282.62" r="1.4" fill="#EE7733"/>
<circle cx="497.32" cy="281.53" r="1.4" fill="#EE7733"/>
<circle cx="500.18" cy="280.3" r="1.4" fill="#EE7733"/>
<circle cx="503.04" cy="278.98" r="1.4" fill="#EE7733"/>
<circle cx="505.9" cy="277.58" r="1.4" fill="#EE7733"/>
<circle cx="508.76" cy="276.13" r="1.4" fill="#EE7733"/>
<circle cx="511.62" cy="274.64" r="1.4" fill="#EE7733"/>
<circle cx="514.48" cy="273.15" r="1.4" fill="#EE7733"/>
<circle cx="517.34" cy="271.66" r="1.4" fill="#EE7733"/>
<circle cx="520.2" cy="270.13" r="1.4" fill="#EE7733"/>
<circle cx="523.06" cy="268.56" r="1.4" fill="#EE7733"/>
<circle cx="525.92" cy="266.97" r="1.4" fill="#EE7733"/>
<circle cx="528.78" cy="265.36" r="1.4" fill="#EE7733"/>
<circle cx="531.64" cy="263.75" r="1.4" fill="#EE7733"/>
<circle cx="534.5" cy="262.16" r="1.4" fill="#EE7733"/>
<circle cx="537.36" cy="260.59" r="1.4" fill="#EE7733"/>
<circle cx="540.22" cy="259.06" r="1.4" fill="#EE7733"/>
<circle cx="543.08" cy="257.59" r="1.4" fill="#EE7733"/>
<circle cx="545.94" cy="256.17" r="1.4" fill="#EE7733"/>
<circle cx="548.8" cy="254.74" r="1.4" fill="#EE7733"/>
<circle cx="551.66" cy="253.26" r="1.4" fill="#EE7733"/>
<circle cx="554.52" cy="251.69" r="1.4" fill="#EE7733"/>
<circle cx="557.38" cy="250.07" r="1.4" fill="#EE7733"/>
<circle cx="560.24" cy="248.4" r="1.4" fill="#EE7733"/>
<circle cx="563.1" cy="246.67" r="1.4" fill="#EE7733"/>
<circle cx="565.96" cy="244.9" r="1.4" fill="#EE7733"/>
<circle cx="568.82" cy="243.08" r="1.4" fill="#EE7733"/>
<circle cx="571.68" cy="241.21" r="1.4" fill="#EE7733"/>
<circle cx="574.54" cy="239.3" r="1.4" fill="#EE7733"/>
<circle cx="577.4" cy="237.34" r="1.4" fill="#EE7733"/>
<circle cx="580.26" cy="235.34" r="1.4" fill="#EE7733"/>
<circle cx="583.12" cy="233.12" r="1.4" fill="#EE7733"/>
<circle cx="585.98" cy="230.74" r="1.4" fill="#EE7733"/>
<path d="M445.84 303.73l1.75 3.5h-3.5zM448.7 302.33l1.75 3.5h-3.5zM451.56 300.92l1.75 3.5h-3.5zM454.42 299.52l1.75 3.5h-3.5zM457.28 298.13l1.75 3.5h-3.5zM460.14 296.73l1.75 3.5h-3.5zM463 295.33l1.75 3.5h-3.5zM465.86 293.89l1.75 3.5h-3.5zM468.72 292.42l1.75 3.5h-3.5zM471.58 290.97l1.75 3.5h-3.5zM474.44 289.56l1.75 3.5h-3.5zM477.3 288.26l1.75 3.5h-3.5zM480.16 287.07l1.75 3.5h-3.5zM483.02 286.02l1.75 3.5h-3.5zM485.88 285.04l1.75 3.5h-3.5zM488.74 284.1l1.75 3.5h-3.5zM491.6 283.15l1.75 3.5h-3.5zM494.46 282.13l1.75 3.5h-3.5zM497.32 281l1.75 3.5h-3.5zM500.18 279.75l1.75 3.5h-3.5zM503.04 278.4l1.75 3.5h-3.5zM505.9 276.98l1.75 3.5h-3.5zM508.76 275.5l1.75 3.5h-3.5zM511.62 274l1.75 3.5h-3.5zM514.48 272.51l1.75 3.5h-3.5zM517.34 271.02l1.75 3.5h-3.5zM520.2 269.49l1.75 3.5h-3.5zM523.06 267.93l1.75 3.5h-3.5zM525.92 266.35l1.75 3.5h-3.5zM528.78 264.77l1.75 3.5h-3.5zM531.64 263.18l1.75 3.5h-3.5zM534.5 261.62l1.75 3.5h-3.5zM537.36 260.08l1.75 3.5h-3.5zM540.22 258.59l1.75 3.5h-3.5zM543.08 257.16l1.75 3.5h-3.5zM545.94 255.78l1.75 3.5h-3.5zM548.8 254.39l1.75 3.5h-3.5zM551.66 252.96l1.75 3.5h-3.5zM554.52 251.44l1.75 3.5h-3.5zM557.38 249.89l1.75 3.5h-3.5zM560.24 248.31l1.75 3.5h-3.5zM563.1 246.7l1.75 3.5h-3.5zM565.96 245.05l1.75 3.5h-3.5zM568.82 243.38l1.75 3.5h-3.5zM571.68 241.68l1.75 3.5h-3.5zM574.54 239.95l1.75 3.5h-3.5zM577.4 238.2l1.75 3.5h-3.5zM580.26 236.43l1.75 3.5h-3.5zM583.12 234.58l1.75 3.5h-3.5zM585.98 232.66l1.75 3.5h-3.5z" fill="#0077BB"/>
<rect x="426.8" y="205.5" width="177.8" height="116.7" fill="none" stroke="#1a1a1a" stroke-width="1.2"/>
<line x1="441.62" y1="322.2" x2="441.62" y2="327.6" stroke="#1a1a1a" stroke-width="1.2"/>
<text transform="translate(441.62 341.8) scale(0.9 1)" text-anchor="middle" class="t">0<tspan dx="-0.8">.</tspan><tspan dx="-0.8">0</tspan></text>
<line x1="478.66" y1="322.2" x2="478.66" y2="327.6" stroke="#1a1a1a" stroke-width="1.2"/>
<text transform="translate(478.66 341.8) scale(0.9 1)" text-anchor="middle" class="t">0<tspan dx="-0.8">.</tspan><tspan dx="-0.8">5</tspan></text>
<line x1="515.7" y1="322.2" x2="515.7" y2="327.6" stroke="#1a1a1a" stroke-width="1.2"/>
<text transform="translate(515.7 341.8) scale(0.9 1)" text-anchor="middle" class="t">1<tspan dx="-0.8">.</tspan><tspan dx="-0.8">0</tspan></text>
<line x1="552.74" y1="322.2" x2="552.74" y2="327.6" stroke="#1a1a1a" stroke-width="1.2"/>
<text transform="translate(552.74 341.8) scale(0.9 1)" text-anchor="middle" class="t">1<tspan dx="-0.8">.</tspan><tspan dx="-0.8">5</tspan></text>
<line x1="589.78" y1="322.2" x2="589.78" y2="327.6" stroke="#1a1a1a" stroke-width="1.2"/>
<text transform="translate(589.78 341.8) scale(0.9 1)" text-anchor="middle" class="t">2<tspan dx="-0.8">.</tspan><tspan dx="-0.8">0</tspan></text>
<line x1="421.6" y1="297.39" x2="426.8" y2="297.39" stroke="#1a1a1a" stroke-width="1.2"/>
<text transform="translate(416.8 302.39) scale(0.9 1)" text-anchor="end" class="t">0</text>
<line x1="421.6" y1="266.76" x2="426.8" y2="266.76" stroke="#1a1a1a" stroke-width="1.2"/>
<text transform="translate(416.8 271.76) scale(0.9 1)" text-anchor="end" class="t">25</text>
<line x1="421.6" y1="236.13" x2="426.8" y2="236.13" stroke="#1a1a1a" stroke-width="1.2"/>
<text transform="translate(416.8 241.13) scale(0.9 1)" text-anchor="end" class="t">50</text>
<line x1="421.6" y1="205.5" x2="426.8" y2="205.5" stroke="#1a1a1a" stroke-width="1.2"/>
<text transform="translate(416.8 210.5) scale(0.9 1)" text-anchor="end" class="t">75</text>
<text transform="translate(515.7 359.1) scale(0.93 1)" text-anchor="middle" class="t"><tspan font-style="italic">&#981;</tspan> in deg</text>
<text transform="translate(395.7 263.85) scale(0.9 1) rotate(-90)" text-anchor="middle" class="t"><tspan font-style="italic">T</tspan> in Nm</text>
<rect x="430.5" y="209.7" width="114.8" height="28.4" rx="2.2" fill="#fff" fill-opacity="0.8" stroke="#c8caca" stroke-width="1.35"/>
<line x1="434.3" y1="217" x2="451.5" y2="217" stroke="#EE7733" stroke-width="2.2" stroke-dasharray="8.1 3.3"/>
<rect x="441.4" y="228.3" width="3" height="3" fill="#0077BB"/>
<text transform="translate(458.6 220.4) scale(0.9 1)" class="l">conv</text>
<text transform="translate(458.6 232.9) scale(0.9 1)" class="l">conv</text>
<circle cx="503.7" cy="217" r="1.45" fill="#EE7733"/>
<path d="M503.7 228L505.5 231.6H501.9Z" fill="#0077BB"/>
<text transform="translate(519 220.4) scale(0.9 1)" class="l">SiME</text>
<text transform="translate(519 232.9) scale(0.9 1)" class="l">SiME</text>
<text x="386.8" y="209.9" class="p" font-size="14.6">e</text>
</g>
</svg>
</body></html>
